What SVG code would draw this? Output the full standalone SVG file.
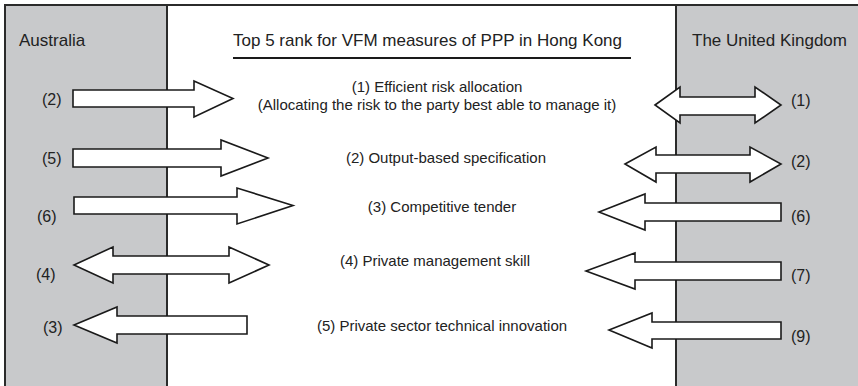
<svg xmlns="http://www.w3.org/2000/svg" width="858" height="386" viewBox="0 0 858 386">
<style>
.panel{fill:#c8c9cb}
.frame{stroke:#2b2b2b;stroke-width:2;fill:none}
.arrow{fill:#fff;stroke:#1a1a1a;stroke-width:1.6;stroke-linejoin:miter}
text{font-family:"Liberation Sans",Arial,sans-serif;fill:#222}
.hdr{font-size:17px}
.lbl{font-size:16px}
.item{font-size:15px;text-anchor:middle}
</style>
<rect x="0" y="0" width="858" height="386" fill="#fff"/>
<g id="australia">
<rect class="panel" x="5" y="5" width="162" height="381"/>
<text class="hdr" x="19" y="46">Australia</text>
</g>
<g id="uk">
<rect class="panel" x="676" y="5" width="182" height="381"/>
<text class="hdr" x="692" y="46">The United Kingdom</text>
</g>
<g id="frame">
<path class="frame" d="M5 386 V5 H858"/>
<line class="frame" x1="167" y1="5" x2="167" y2="386"/>
<line class="frame" x1="676" y1="5" x2="676" y2="386"/>
</g>
<g id="title">
<text class="hdr" x="233" y="46">Top 5 rank for VFM measures of PPP in Hong Kong</text>
<line x1="233" y1="58" x2="631" y2="58" stroke="#1a1a1a" stroke-width="2"/>
</g>
<g id="measures">
<text class="item" x="437" y="92">(1) Efficient risk allocation</text>
<text class="item" x="437" y="110">(Allocating the risk to the party best able to manage it)</text>
<text class="item" x="446" y="163">(2) Output-based specification</text>
<text class="item" x="442" y="212">(3) Competitive tender</text>
<text class="item" x="435" y="266">(4) Private management skill</text>
<text class="item" x="442" y="331">(5) Private sector technical innovation</text>
</g>
<g id="aus-ranks">
<text class="lbl" x="42" y="105">(2)</text>
<text class="lbl" x="42" y="164">(5)</text>
<text class="lbl" x="37" y="222">(6)</text>
<text class="lbl" x="36" y="280">(4)</text>
<text class="lbl" x="43" y="333">(3)</text>
</g>
<g id="uk-ranks">
<text class="lbl" x="791" y="106">(1)</text>
<text class="lbl" x="791" y="167">(2)</text>
<text class="lbl" x="791" y="222">(6)</text>
<text class="lbl" x="791" y="281">(7)</text>
<text class="lbl" x="791" y="342">(9)</text>
</g>
<g id="connectors">
<polygon class="arrow" points="73,90 194,90 194,81 233,98.5 194,117 194,107 73,107"/>
<polygon class="arrow" points="73,149 221,149 221,140 268,158 221,176 221,167 73,167"/>
<polygon class="arrow" points="74,197 237,197 237,188 293,205.5 237,224 237,214 74,214"/>
<polygon class="arrow" points="74,265 113,247 113,256 229,256 229,247 269,265 229,283 229,274 113,274 113,283"/>
<polygon class="arrow" points="74,325 117,307 117,316 247,316 247,334 117,334 117,343"/>
<polygon class="arrow" points="655,105 680,87 680,97 755,97 755,87 781,105 755,123 755,115 680,115 680,123"/>
<polygon class="arrow" points="625,164 656,147 656,155 750,155 750,147 781,164 750,182 750,173 656,173 656,182"/>
<polygon class="arrow" points="599,212 645,194 645,203 781,203 781,221 645,221 645,230"/>
<polygon class="arrow" points="586,271 635,253 635,262 781,262 781,280 635,280 635,289"/>
<polygon class="arrow" points="609,330 652,313 652,322 781,322 781,339 652,339 652,348"/>
</g>
</svg>
